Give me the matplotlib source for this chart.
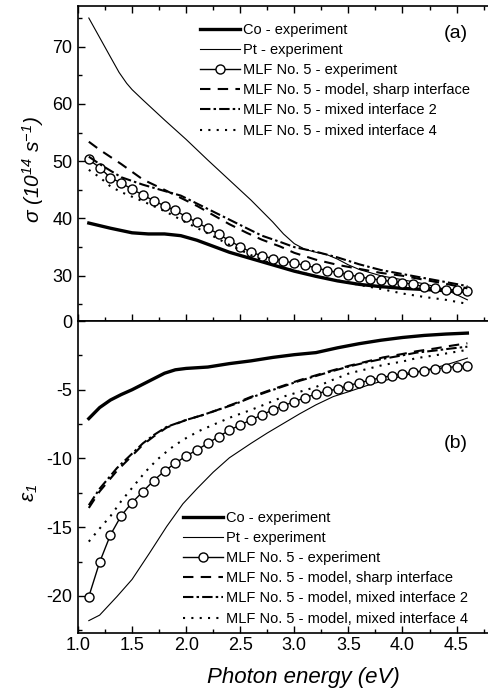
import numpy as np
import matplotlib.pyplot as plt
from matplotlib.ticker import MultipleLocator

plt.rcParams['font.family'] = ['Liberation Sans', 'DejaVu Sans']
plt.rcParams['mathtext.fontset'] = 'custom'
plt.rcParams['mathtext.rm'] = 'Liberation Sans:italic'
plt.rcParams['mathtext.it'] = 'Liberation Sans:italic'
plt.rcParams['axes.unicode_minus'] = False

# --- (a) optical conductivity sigma, 10^14 1/s ---
e_co_a = [1.1, 1.3, 1.5, 1.65, 1.8, 1.95, 2.1, 2.2, 2.4, 2.6, 2.8, 3.0, 3.2, 3.4, 3.6, 3.8, 4.0, 4.2, 4.4, 4.6]
s_co = [39.2, 38.3, 37.5, 37.3, 37.3, 37.0, 36.2, 35.5, 34.1, 33.0, 31.9, 30.8, 29.9, 29.1, 28.5, 28.1,
        27.8, 27.6, 27.4, 27.3]

e_pt_a = [1.1, 1.2, 1.3, 1.38, 1.45, 1.5, 1.6, 1.8, 2.0, 2.2, 2.4, 2.6, 2.8, 2.9, 3.0, 3.1, 3.2, 3.3,
          3.4, 3.5, 3.6, 3.8, 4.0, 4.2, 4.4, 4.5, 4.6]
s_pt = [75.0, 71.6, 68.2, 65.5, 63.6, 62.5, 60.7, 57.2, 53.8, 50.2, 46.7, 43.2, 39.4, 37.3, 35.6, 34.6,
        34.1, 33.7, 32.9, 31.9, 31.1, 30.0, 29.3, 28.6, 27.6, 26.7, 25.8]

e_mlf = np.round(np.arange(1.1, 4.65, 0.1), 2)
s_mlf = [50.3, 48.9, 47.1, 46.2, 45.1, 44.1, 43.1, 42.2, 41.4, 40.3, 39.3, 38.3, 37.3, 36.1, 35.1, 34.1,
         33.5, 33.0, 32.6, 32.2, 31.8, 31.4, 30.9, 30.6, 30.2, 29.8, 29.5, 29.25, 29.0, 28.8, 28.5, 28.1,
         27.8, 27.6, 27.5, 27.3]

e_mod_a = [1.1, 1.2, 1.4, 1.6, 1.8, 1.95, 2.1, 2.25, 2.4, 2.56, 2.7, 2.87, 3.0, 3.2, 3.4, 3.6, 3.8, 4.0,
           4.2, 4.4, 4.6]
s_sharp = [53.4, 52.0, 49.5, 46.8, 45.0, 43.6, 42.2, 40.6, 39.0, 37.5, 36.3, 35.1, 34.0, 32.8, 31.9, 31.2,
           30.5, 30.0, 29.3, 28.6, 27.8]
s_mix2 = [50.8, 49.5, 47.2, 45.9, 44.8, 44.0, 42.6, 41.2, 39.8, 38.3, 37.0, 35.9, 35.0, 34.2, 33.2, 32.0,
          31.0, 30.3, 29.6, 28.9, 28.2]

e_mix4_a = [1.1, 1.2, 1.3, 1.4, 1.5, 1.6, 1.8, 2.0, 2.2, 2.4, 2.6, 2.8, 3.0, 3.2, 3.4, 3.6, 3.8, 4.0, 4.2,
            4.4, 4.6]
s_mix4 = [48.5, 47.2, 45.6, 44.6, 43.8, 43.0, 41.3, 39.3, 37.4, 35.4, 33.6, 32.0, 30.9, 29.9, 29.2, 28.4,
          27.7, 26.9, 26.3, 25.8, 25.1]

# --- (b) real part of dielectric function eps1 ---
e_co_b = [1.1, 1.2, 1.3, 1.4, 1.5, 1.6, 1.7, 1.8, 1.9, 2.0, 2.2, 2.4, 2.6, 2.8, 3.0, 3.2, 3.4, 3.6, 3.8,
          4.0, 4.2, 4.4, 4.6]
eps_co = [-7.1, -6.3, -5.75, -5.35, -5.0, -4.6, -4.2, -3.8, -3.55, -3.45, -3.35, -3.1, -2.9, -2.65, -2.45,
          -2.3, -1.95, -1.65, -1.4, -1.2, -1.05, -0.95, -0.88]

e_pt_b = [1.1, 1.2, 1.36, 1.5, 1.66, 1.82, 1.97, 2.1, 2.25, 2.4, 2.6, 2.75, 2.9, 3.05, 3.2, 3.36, 3.5,
          3.67, 3.8, 4.0, 4.2, 4.4, 4.6]
eps_pt = [-21.8, -21.4, -20.05, -18.8, -16.9, -14.95, -13.3, -12.2, -11.0, -9.95, -8.9, -8.15, -7.45,
          -6.75, -6.1, -5.5, -5.15, -4.7, -4.4, -4.0, -3.6, -3.2, -2.7]

eps_mlf = [-20.05, -17.55, -15.56, -14.16, -13.21, -12.41, -11.61, -10.91, -10.35, -9.82, -9.38, -8.90,
           -8.41, -7.95, -7.56, -7.2, -6.84, -6.47, -6.16, -5.87, -5.58, -5.31, -5.09, -4.95, -4.70,
           -4.49, -4.31, -4.12, -3.98, -3.85, -3.73, -3.61, -3.49, -3.39, -3.32, -3.27]

e_mod_b = [1.1, 1.2, 1.36, 1.5, 1.6, 1.7, 1.82, 2.0, 2.15, 2.28, 2.45, 2.59, 2.75, 2.9, 3.05, 3.2, 3.35,
           3.51, 3.67, 3.82, 4.0, 4.13, 4.3, 4.45, 4.6]
eps_sharp = [-13.6, -12.4, -10.9, -9.8, -9.0, -8.4, -7.75, -7.2, -6.85, -6.5, -6.0, -5.55, -5.1, -4.7,
             -4.3, -3.95, -3.6, -3.25, -2.95, -2.65, -2.4, -2.2, -2.0, -1.8, -1.62]
eps_mix2 = [-13.4, -12.2, -10.7, -9.65, -8.9, -8.3, -7.7, -7.2, -6.85, -6.5, -6.05, -5.6, -5.15, -4.75,
            -4.35, -4.0, -3.65, -3.3, -3.0, -2.75, -2.5, -2.3, -2.15, -2.0, -1.87]

e_mix4_b = [1.1, 1.2, 1.3, 1.4, 1.51, 1.62, 1.73, 1.85, 1.97, 2.12, 2.28, 2.43, 2.59, 2.75, 2.9, 3.05,
            3.2, 3.35, 3.51, 3.67, 3.82, 4.0, 4.13, 4.3, 4.45, 4.6]
eps_mix4 = [-16.05, -15.1, -14.2, -13.1, -12.05, -11.0, -10.1, -9.3, -8.65, -8.0, -7.45, -6.95, -6.5,
            -6.0, -5.5, -5.15, -4.8, -4.3, -3.8, -3.5, -3.2, -2.95, -2.7, -2.5, -2.3, -2.1]

labels_a = ['Co - experiment', 'Pt - experiment', 'MLF No. 5 - experiment',
            'MLF No. 5 - model, sharp interface', 'MLF No. 5 - mixed interface 2',
            'MLF No. 5 - mixed interface 4']
labels_b = ['Co - experiment', 'Pt - experiment', 'MLF No. 5 - experiment',
            'MLF No. 5 - model, sharp interface', 'MLF No. 5 - model, mixed interface 2',
            'MLF No. 5 - model, mixed interface 4']

W, H = 489, 694
fig = plt.figure(figsize=(W / 100, H / 100), dpi=100)
x0, x1 = 78 / W, 489 / W
axa = fig.add_axes([x0, 1 - 321 / H, x1 - x0, (321 - 6) / H])
axb = fig.add_axes([x0, 1 - 633 / H, x1 - x0, (633 - 321) / H], sharex=axa)

k = 'k'
dash = (0, (5, 3.5))
dashdot = (0, (5, 1.5, 1.2, 1.5))
dot = (0, (1, 3))


def draw(ax, xs):
    (e_co, y_co, e_pt, y_pt, y_mlf, e_mod, y_sh, y_m2, e_m4, y_m4) = xs
    h = []
    h += ax.plot(e_co, y_co, color=k, lw=2.4)
    h += ax.plot(e_pt, y_pt, color=k, lw=0.8)
    h += ax.plot(e_mlf, y_mlf, color=k, lw=1.0, marker='o', ms=6.5, mfc='white', mec=k, mew=1.0)
    h += ax.plot(e_mod, y_sh, color=k, lw=1.5, ls=dash)
    h += ax.plot(e_mod, y_m2, color=k, lw=1.5, ls=dashdot)
    h += ax.plot(e_m4, y_m4, color=k, lw=1.5, ls=dot)
    return h


ha = draw(axa, (e_co_a, s_co, e_pt_a, s_pt, s_mlf, e_mod_a, s_sharp, s_mix2, e_mix4_a, s_mix4))
hb = draw(axb, (e_co_b, eps_co, e_pt_b, eps_pt, eps_mlf, e_mod_b, eps_sharp, eps_mix2, e_mix4_b, eps_mix4))

axa.set_xlim(1.0, 4.8)
axa.set_ylim(22.1, 77.1)
axb.set_ylim(-22.7, 0)
axa.yaxis.set_major_locator(MultipleLocator(10))
axa.yaxis.set_minor_locator(MultipleLocator(5))
axb.yaxis.set_major_locator(MultipleLocator(5))
axb.yaxis.set_minor_locator(MultipleLocator(2.5))
axb.xaxis.set_major_locator(MultipleLocator(0.5))
axb.xaxis.set_minor_locator(MultipleLocator(0.25))
axb.xaxis.set_major_formatter(plt.FormatStrFormatter('%.1f'))
axa.set_yticks([30, 40, 50, 60, 70])

for ax in (axa, axb):
    ax.tick_params(which='both', direction='in', labelsize=13, pad=4)
    ax.tick_params(which='major', length=5, width=1)
    ax.tick_params(which='minor', length=3, width=1)
    for s in ax.spines.values():
        s.set_linewidth(1.2)
axa.tick_params(axis='x', labelbottom=False, top=True, which='both')
axb.tick_params(axis='x', pad=3)

leg_kw = dict(frameon=False, fontsize=10.5, handlelength=2.75, handletextpad=0.2,
              labelspacing=0.42, borderpad=0, borderaxespad=0, numpoints=1, loc='upper left')
axa.legend(ha, labels_a, bbox_to_anchor=(200 / W, 1 - 23 / H), bbox_transform=fig.transFigure, **leg_kw)
axb.legend(hb, labels_b, bbox_to_anchor=(183 / W, 1 - 511 / H), bbox_transform=fig.transFigure, **leg_kw)

fig.text(456 / W, 1 - 33 / H, '(a)', fontsize=14, ha='center', va='center')
fig.text(456 / W, 1 - 443 / H, '(b)', fontsize=14, ha='center', va='center')

fig.text(33 / W, 1 - 170 / H, r'$\sigma$ (10$^{14}$ s$^{-1}$)', fontsize=15, style='italic',
         rotation=90, ha='center', va='center')
fig.text(30 / W, 1 - 493 / H, r'$\varepsilon_1$', fontsize=15,
         rotation=90, ha='center', va='center')
fig.text(303 / W, 1 - 678 / H, 'Photon energy (eV)', fontsize=16, style='italic',
         ha='center', va='center')

fig.savefig('out.png', dpi=100)
